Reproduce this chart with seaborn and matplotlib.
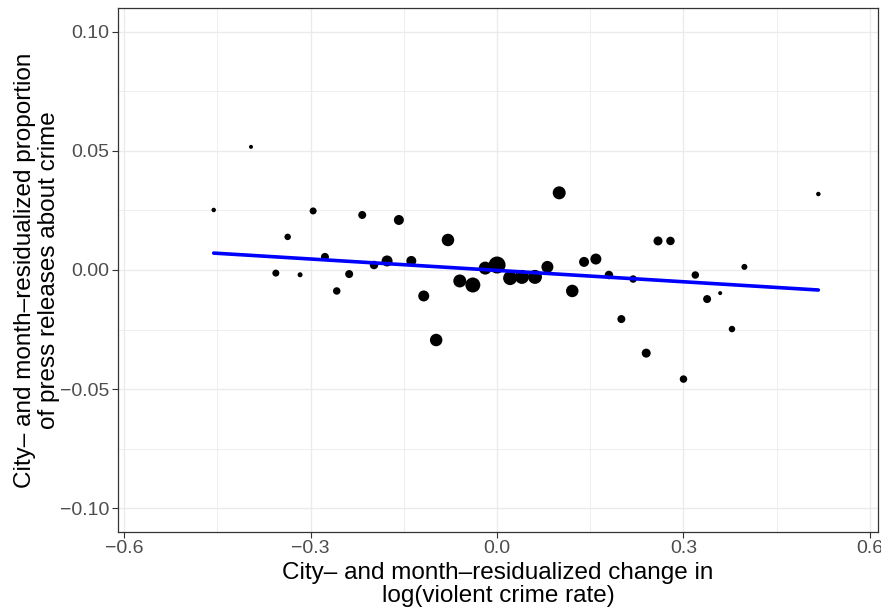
import numpy as np
import pandas as pd
import matplotlib
matplotlib.use("Agg")
import matplotlib.pyplot as plt
import seaborn as sns
from matplotlib.ticker import FixedLocator

# Binned scatter values
crime_change = [-0.456, -0.396, -0.337, -0.356, -0.317, -0.296, -0.277, -0.258, -0.238, -0.217,
                -0.198, -0.177, -0.158, -0.138, -0.118, -0.098, -0.079, -0.060, -0.039, -0.019,
                0.000, 0.021, 0.040, 0.061, 0.081, 0.100, 0.121, 0.140, 0.159, 0.180,
                0.200, 0.219, 0.240, 0.259, 0.279, 0.300, 0.319, 0.338, 0.359, 0.378,
                0.398, 0.517]
press_share = [0.0252, 0.0517, 0.0139, -0.0013, -0.0020, 0.0248, 0.0055, -0.0088, -0.0017, 0.0231,
               0.0021, 0.0038, 0.0210, 0.0038, -0.0109, -0.0294, 0.0126, -0.0046, -0.0063, 0.0008,
               0.0021, -0.0034, -0.0029, -0.0029, 0.0013, 0.0324, -0.0088, 0.0034, 0.0046, -0.0021,
               -0.0206, -0.0038, -0.0349, 0.0122, 0.0122, -0.0458, -0.0021, -0.0122, -0.0097, -0.0248,
               0.0013, 0.0319]
# relative bin weight (approx. marker area)
bin_weight = [20, 16, 42, 49, 25, 49, 64, 56, 64, 64,
              72, 121, 100, 100, 121, 156, 156, 169, 225, 169,
              289, 196, 196, 196, 144, 169, 156, 100, 121, 72,
              64, 56, 81, 81, 72, 56, 56, 64, 16, 42,
              36, 20]

# fitted line endpoints
fit_x = [-0.456, 0.517]
fit_y = [0.0071, -0.0084]

x_ticks = [-0.6, -0.3, 0.0, 0.3, 0.6]
y_ticks = [-0.10, -0.05, 0.00, 0.05, 0.10]

df = pd.DataFrame({"x": crime_change, "y": press_share, "w": bin_weight})

sns.set_theme(style="white")
plt.rcParams["font.family"] = ["Liberation Sans", "DejaVu Sans"]

fig = plt.figure(figsize=(8.81, 6.12), dpi=100)
ax = fig.add_axes([118 / 881, 1 - 532 / 612, (878 - 118) / 881, (532 - 8) / 612])

ax.set_xlim(-0.610, 0.613)
ax.set_ylim(-0.110, 0.110)

# grid like theme_bw
ax.set_axisbelow(True)
ax.xaxis.set_major_locator(FixedLocator(x_ticks))
ax.yaxis.set_major_locator(FixedLocator(y_ticks))
ax.xaxis.set_minor_locator(FixedLocator([-0.45, -0.15, 0.15, 0.45]))
ax.yaxis.set_minor_locator(FixedLocator([-0.075, -0.025, 0.025, 0.075]))
ax.grid(which="major", color="#EBEBEB", linewidth=1.0)
ax.grid(which="minor", color="#EBEBEB", linewidth=0.6)

dmin, dmax = 4.0, 17.0
sns.scatterplot(data=df, x="x", y="y", size="w",
                sizes=((0.72 * dmin) ** 2, (0.72 * dmax) ** 2),
                size_norm=(dmin ** 2, dmax ** 2),
                color="black", linewidth=0, legend=False, ax=ax, zorder=3)

sns.lineplot(x=fit_x, y=fit_y, color="#0000FF", linewidth=2.6, ax=ax, zorder=4)

ax.set_xticklabels(["\u22120.6", "\u22120.3", "0.0", "0.3", "0.6"])
ax.set_yticklabels(["\u22120.10", "\u22120.05", "0.00", "0.05", "0.10"])
ax.tick_params(axis="both", which="major", direction="out", length=4, width=0.8,
               color="#333333", labelcolor="#4D4D4D", labelsize=14, pad=2,
               bottom=True, left=True)
ax.tick_params(which="minor", length=0)

for s in ax.spines.values():
    s.set_color("#333333")
    s.set_linewidth(0.9)

ax.set_xlabel("City\u2013 and month\u2013residualized change in\nlog(violent crime rate)",
              fontsize=17.5, color="black", linespacing=1.1, labelpad=3)
ax.set_ylabel("City\u2013 and month\u2013residualized proportion\nof press releases about crime",
              fontsize=17.5, color="black", linespacing=1.1)
ax.yaxis.set_label_coords(-58 / 760, 0.5)

fig.savefig("out.png", dpi=100)
